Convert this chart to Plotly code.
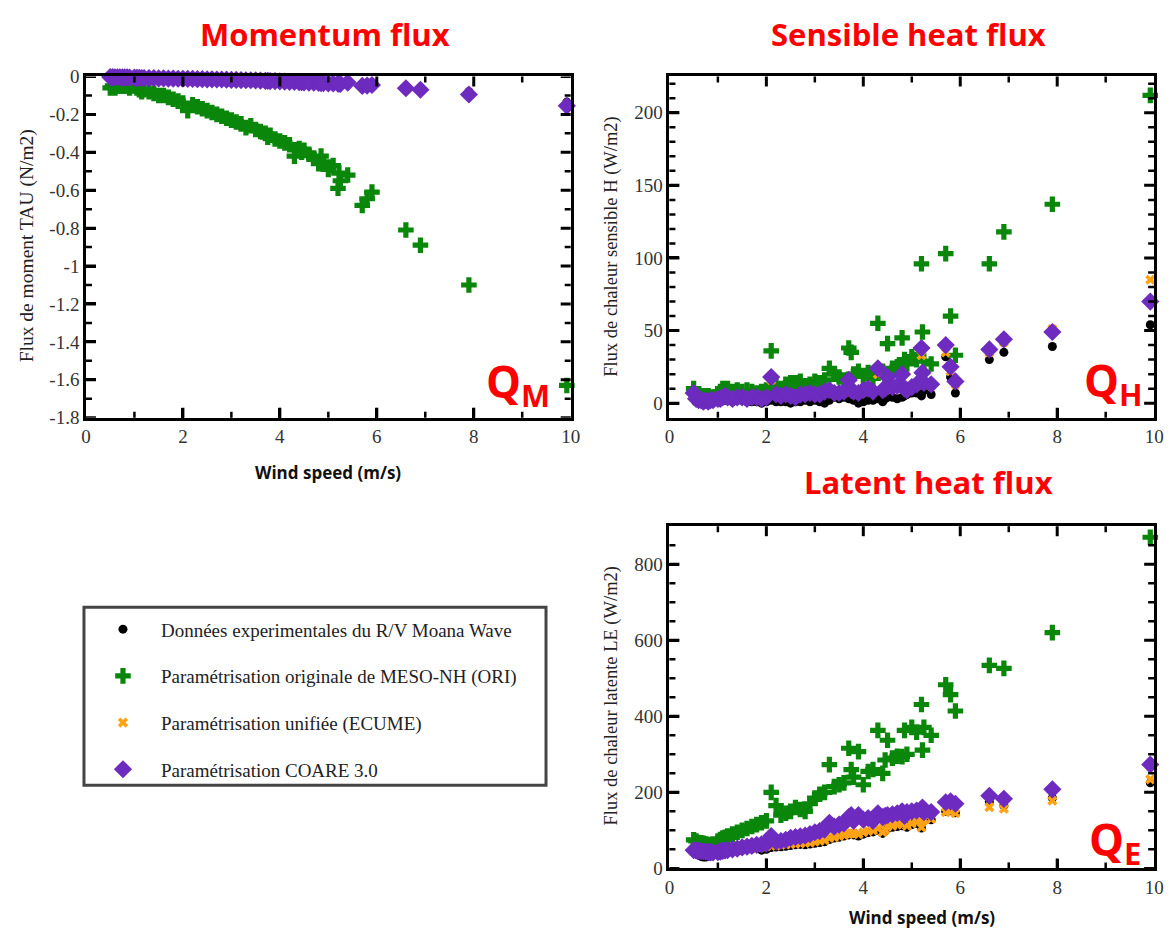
import plotly.graph_objects as go

# ---------------- data ----------------
wind = [0.5, 0.55, 0.6, 0.65, 0.7, 0.75, 0.8, 0.85, 0.9, 1.0,
        1.05, 1.1, 1.15, 1.2, 1.3, 1.4, 1.5, 1.6, 1.7, 1.8,
        1.9, 2.0, 2.1, 2.2, 2.3, 2.4, 2.5, 2.6, 2.7, 2.8,
        2.9, 3.0, 3.1, 3.2, 3.3, 3.4, 3.5, 3.6, 3.7, 3.75,
        3.8, 3.9, 4.0, 4.1, 4.2, 4.3, 4.4, 4.45, 4.5, 4.6,
        4.7, 4.8, 4.85, 4.9, 5.0, 5.1, 5.2, 5.22, 5.25, 5.4,
        5.7, 5.8, 5.9, 6.6, 6.9, 7.9, 9.92]

# Momentum flux TAU (N/m2)
tau_obs = [-0.002, -0.002, -0.003, -0.003, -0.003, -0.004, -0.004, -0.004, -0.005, -0.005,
           -0.006, -0.006, -0.006, -0.007, -0.007, -0.008, -0.008, -0.008, -0.009, -0.009,
           -0.010, -0.010, -0.011, -0.011, -0.012, -0.012, -0.013, -0.013, -0.013, -0.014,
           -0.014, -0.015, -0.015, -0.016, -0.017, -0.017, -0.018, -0.018, -0.019, -0.019,
           -0.020, -0.021, -0.022, -0.022, -0.023, -0.024, -0.025, -0.025, -0.026, -0.027,
           -0.028, -0.028, -0.029, -0.029, -0.030, -0.031, -0.032, -0.032, -0.033, -0.025,
           -0.042, -0.040, -0.038, -0.052, -0.060, -0.080, -0.135]
tau_ori = [-0.06, -0.05, -0.06, -0.05, -0.05, -0.05, -0.05, -0.05, -0.06, -0.05,
           -0.06, -0.07, -0.08, -0.07, -0.08, -0.09, -0.10, -0.10, -0.11, -0.12,
           -0.13, -0.14, -0.18, -0.15, -0.16, -0.17, -0.18, -0.19, -0.20, -0.21,
           -0.22, -0.23, -0.24, -0.25, -0.27, -0.26, -0.28, -0.29, -0.30, -0.32,
           -0.31, -0.33, -0.34, -0.35, -0.36, -0.42, -0.38, -0.40, -0.39, -0.41,
           -0.43, -0.46, -0.42, -0.45, -0.49, -0.47, -0.59, -0.51, -0.55, -0.52,
           -0.68, -0.645, -0.61, -0.81, -0.89, -1.10, -1.63]
tau_ecume = [-0.003, -0.003, -0.004, -0.004, -0.004, -0.005, -0.005, -0.005, -0.006, -0.006,
             -0.007, -0.007, -0.008, -0.008, -0.009, -0.009, -0.010, -0.010, -0.011, -0.011,
             -0.012, -0.012, -0.013, -0.013, -0.014, -0.014, -0.015, -0.015, -0.016, -0.016,
             -0.017, -0.018, -0.018, -0.019, -0.020, -0.020, -0.021, -0.022, -0.023, -0.023,
             -0.024, -0.025, -0.026, -0.027, -0.028, -0.029, -0.030, -0.030, -0.031, -0.032,
             -0.033, -0.034, -0.035, -0.035, -0.036, -0.037, -0.038, -0.038, -0.039, -0.030,
             -0.048, -0.046, -0.044, -0.060, -0.068, -0.092, -0.150]
tau_coare = [-0.003, -0.003, -0.004, -0.004, -0.004, -0.005, -0.005, -0.005, -0.006, -0.006,
             -0.007, -0.007, -0.008, -0.008, -0.009, -0.009, -0.010, -0.010, -0.011, -0.011,
             -0.012, -0.012, -0.013, -0.013, -0.014, -0.014, -0.015, -0.015, -0.016, -0.016,
             -0.017, -0.018, -0.018, -0.019, -0.020, -0.020, -0.021, -0.022, -0.023, -0.023,
             -0.024, -0.025, -0.026, -0.027, -0.028, -0.029, -0.030, -0.030, -0.031, -0.032,
             -0.033, -0.034, -0.035, -0.035, -0.036, -0.037, -0.038, -0.038, -0.039, -0.032,
             -0.050, -0.048, -0.045, -0.062, -0.070, -0.095, -0.155]

# Sensible heat flux H (W/m2)
h_obs = [5, 1, 0, 1, 0, 1, 0, 1, 1, 2,
         2, 2, 2, 2, 1, 2, 2, 1, 1, 1,
         0, 1, 2, 1, 1, 1, 0, 1, 1, 2,
         1, 2, 1, 0, 2, 4, 3, 4, 3, 3,
         2, 0, 1, 2, 2, 3, 1, 3, 4, 4,
         3, 4, 5, 6, 7, 7, 5, 8, 9, 6,
         32, 18, 7, 30, 35, 39, 54]
h_ori = [10, 6, 5, 4, 5, 4, 5, 4, 4, 5,
         8, 10, 9, 10, 8, 9, 8, 9, 8, 7,
         8, 9, 36, 12, 10, 13, 14, 14, 15, 12,
         13, 15, 14, 16, 24, 20, 18, 16, 38, 35,
         20, 22, 19, 21, 17, 55, 22, 20, 41, 24,
         25, 45, 30, 27, 32, 30, 96, 49, 29, 27,
         103, 60, 33, 96, 118, 137, 212]
h_ecume = [6, 3, 2, 2, 1, 2, 1, 2, 2, 3,
           3, 4, 4, 4, 3, 4, 4, 3, 4, 4,
           3, 4, 16, 6, 5, 5, 5, 4, 5, 6,
           6, 6, 6, 7, 8, 7, 7, 7, 15, 8,
           8, 7, 8, 9, 8, 20, 9, 9, 16, 10,
           11, 17, 10, 9, 11, 12, 33, 19, 13, 12,
           35, 22, 13, 35, 42, 51, 85]
h_coare = [7, 3, 2, 2, 1, 2, 1, 2, 2, 3,
           3, 4, 5, 4, 3, 4, 4, 3, 4, 4,
           3, 4, 18, 6, 5, 6, 5, 4, 6, 6,
           7, 6, 6, 8, 9, 7, 7, 8, 16, 9,
           8, 7, 9, 10, 8, 24, 9, 10, 18, 11,
           12, 20, 10, 9, 11, 13, 38, 21, 14, 13,
           40, 25, 15, 37, 44, 49, 70]

# Latent heat flux LE (W/m2)
le_obs = [45, 40, 35, 32, 30, 30, 32, 33, 35, 38,
          40, 42, 43, 44, 45, 46, 48, 50, 52, 54,
          48, 50, 55, 56, 57, 58, 60, 62, 63, 62,
          64, 66, 68, 70, 76, 80, 82, 85, 88, 90,
          88, 85, 90, 94, 96, 100, 92, 98, 105, 108,
          110, 112, 115, 108, 115, 118, 106, 122, 125, 128,
          150, 152, 146, 175, 165, 185, 225]
le_ori = [75, 72, 68, 67, 66, 64, 63, 62, 64, 72,
          76, 80, 82, 85, 90, 95, 100, 105, 110, 115,
          120, 125, 200, 165, 140, 145, 150, 160, 155, 150,
          170, 185, 195, 200, 273, 215, 220, 225, 316, 260,
          240, 307, 220, 255, 260, 363, 250, 285, 337, 290,
          295, 294, 363, 300, 371, 358, 431, 311, 371, 350,
          483, 457, 414, 534, 526, 620, 871]
le_ecume = [46, 44, 42, 40, 38, 37, 36, 38, 40, 42,
            43, 44, 45, 46, 47, 48, 50, 52, 54, 56,
            57, 58, 60, 60, 62, 63, 64, 65, 66, 67,
            68, 70, 72, 74, 80, 82, 85, 88, 90, 92,
            92, 90, 95, 98, 100, 105, 95, 102, 110, 112,
            115, 118, 120, 112, 118, 122, 108, 125, 128, 130,
            148, 150, 145, 161, 157, 178, 234]
le_coare = [48, 47, 46, 45, 45, 44, 43, 42, 42, 43,
            44, 46, 47, 48, 50, 52, 55, 57, 59, 62,
            63, 65, 85, 70, 72, 75, 80, 82, 84, 86,
            90, 95, 98, 102, 120, 110, 115, 118, 135, 140,
            125, 140, 128, 132, 125, 145, 135, 138, 140, 142,
            145, 150, 138, 148, 150, 152, 155, 160, 148, 148,
            174, 176, 170, 191, 183, 208, 273]

series_names = ["Données experimentales du R/V Moana Wave",
                "Paramétrisation originale de MESO-NH (ORI)",
                "Paramétrisation unifiée (ECUME)",
                "Paramétrisation COARE 3.0"]
series_colors = ["#000000", "#0a870a", "#ffa214", "#6d2bbf"]
series_symbols = ["circle", "cross", "x", "diamond"]
series_sizes = [9, 13, 9, 14]

# ticks
x_ticks = [0, 2, 4, 6, 8, 10]
x_minor = [1, 3, 5, 7, 9]
tau_ticks = [0, -0.2, -0.4, -0.6, -0.8, -1, -1.2, -1.4, -1.6, -1.8]
tau_ticklabels = ["0", "-0.2", "-0.4", "-0.6", "-0.8", "-1", "-1.2", "-1.4", "-1.6", "-1.8"]
tau_minor = [-0.1, -0.3, -0.5, -0.7, -0.9, -1.1, -1.3, -1.5, -1.7]
h_ticks = [0, 50, 100, 150, 200]
h_minor = [10, 20, 30, 40, 60, 70, 80, 90, 110, 120, 130, 140,
           160, 170, 180, 190, 210, 220]
le_ticks = [0, 200, 400, 600, 800]
le_minor = [50, 100, 150, 250, 300, 350, 450, 500, 550, 650, 700, 750, 850]

panel_titles = ["Momentum flux", "Sensible heat flux", "Latent heat flux"]
y_titles = ["Flux de moment TAU (N/m2)", "Flux de chaleur sensible H (W/m2)",
            "Flux de chaleur latente LE (W/m2)"]
x_title = "Wind speed (m/s)"

# ---------------- figure ----------------
W, H = 1176, 940


def px_x(p):
    return p / W


def px_y(p):
    return 1 - p / H


fig = go.Figure()

panels = [
    ("x", "y", [tau_obs, tau_ori, tau_ecume, tau_coare], tau_ticks, tau_minor),
    ("x2", "y2", [h_obs, h_ori, h_ecume, h_coare], h_ticks, h_minor),
    ("x3", "y3", [le_obs, le_ori, le_ecume, le_coare], le_ticks, le_minor),
]
for pi, (xa, ya, ys, _, _) in enumerate(panels):
    for si in range(4):
        fig.add_trace(go.Scatter(
            x=wind, y=ys[si], mode="markers", xaxis=xa, yaxis=ya,
            name=series_names[si], legendgroup="g%d" % si,
            showlegend=(pi == 0), cliponaxis=False,
            marker=dict(color=series_colors[si], symbol=series_symbols[si],
                        size=series_sizes[si], line=dict(width=0)),
        ))

tickfont = dict(family="Liberation Serif", size=19, color="#333333")


def ax(domain, rng, anchor, vals, text=None):
    d = dict(domain=domain, range=rng, anchor=anchor, tickmode="array", tickvals=vals,
             showline=True, linecolor="black", linewidth=2.5, mirror=True,
             ticks="inside", ticklen=10, tickwidth=3, tickcolor="#000000",
             showgrid=False, zeroline=False, tickfont=tickfont)
    if text is not None:
        d["ticktext"] = text
    return d


xdom1 = [px_x(82), px_x(573)]
xdom2 = [px_x(673), px_x(1164)]
ydom_top = [px_y(417), px_y(68)]
ydom_bot = [px_y(878), px_y(528)]

fig.update_layout(
    width=W, height=H,
    margin=dict(l=0, r=0, t=0, b=0),
    paper_bgcolor="white", plot_bgcolor="white",
    xaxis=ax(xdom1, [0, 10], "y", x_ticks),
    yaxis=ax(ydom_top, [-1.8, 0], "x", tau_ticks, tau_ticklabels),
    xaxis2=ax(xdom2, [0, 10], "y2", x_ticks),
    yaxis2=ax(ydom_top, [-10, 225], "x2", h_ticks),
    xaxis3=ax(xdom2, [0, 10], "y3", x_ticks),
    yaxis3=ax(ydom_bot, [0, 900], "x3", le_ticks),
    showlegend=True,
    legend=dict(x=px_x(81), y=px_y(614), xanchor="left", yanchor="top",
                bgcolor="rgba(0,0,0,0)", borderwidth=0,
                font=dict(family="Liberation Serif", size=19, color="#222222"),
                itemwidth=66, tracegroupgap=19, itemsizing="trace"),
)

# inward tick marks on the mirrored sides and the minor ticks
shapes = []
for xa, ya, _, ymaj, ymin in panels:
    for vals, L, w in [(x_ticks[1:-1], 10, 3), (x_minor, 6, 2.5)]:
        for v in vals:
            for anc, sgn in [(0, 1), (1, -1)]:
                shapes.append(dict(type="line", xref=xa, yref=ya + " domain",
                                   x0=v, x1=v, ysizemode="pixel", yanchor=anc,
                                   y0=0, y1=sgn * L, layer="above",
                                   line=dict(color="black", width=w)))
    for vals, L, w in [(ymaj, 10, 3), (ymin, 6, 2.5)]:
        for v in vals:
            for anc, sgn in [(0, 1), (1, -1)]:
                shapes.append(dict(type="line", xref=xa + " domain", yref=ya,
                                   y0=v, y1=v, xsizemode="pixel", xanchor=anc,
                                   x0=0, x1=sgn * L, layer="above",
                                   line=dict(color="black", width=w)))

# legend frame
shapes.append(dict(type="rect", xref="paper", yref="paper",
                   x0=px_x(80), x1=px_x(548), y0=px_y(793), y1=px_y(611),
                   line=dict(color="#444444", width=3), fillcolor="rgba(0,0,0,0)"))
fig.update_layout(shapes=shapes)

title_font = dict(family="Open Sans", size=31, color="#ff0000")
for txt, cx, cy in zip(panel_titles, [324, 915, 935], [25, 25, 483]):
    fig.add_annotation(text="<b>%s</b>" % txt, x=px_x(cx), y=px_y(cy), xref="paper", yref="paper",
                       showarrow=False, xanchor="center", yanchor="middle", font=title_font)

for txt, cx, cy, fs in zip(y_titles, [22, 614, 614], [241, 242, 702], [19.5, 18.5, 18.5]):
    fig.add_annotation(text=txt, x=px_x(cx), y=px_y(cy), xref="paper", yref="paper",
                       showarrow=False, xanchor="center", yanchor="middle", textangle=-90,
                       font=dict(family="Liberation Serif", size=fs, color="#222222"))

xtitle_font = dict(family="Open Sans", size=17, color="#111111")
for cx, cy in [(327, 473), (929, 928)]:
    fig.add_annotation(text="<b>%s</b>" % x_title, x=px_x(cx), y=px_y(cy), xref="paper", yref="paper",
                       showarrow=False, xanchor="center", yanchor="middle", font=xtitle_font)

q_font = dict(family="Open Sans", size=44, color="#ff0000")
for sub, cx, cy in [("M", 520, 382), ("H", 1123, 381), ("E", 1124, 850)]:
    fig.add_annotation(text="<b>Q<sub>%s</sub></b>" % sub, x=px_x(cx), y=px_y(cy),
                       xref="paper", yref="paper", showarrow=False,
                       xanchor="center", yanchor="middle", font=q_font)

fig.write_html("out.html")
